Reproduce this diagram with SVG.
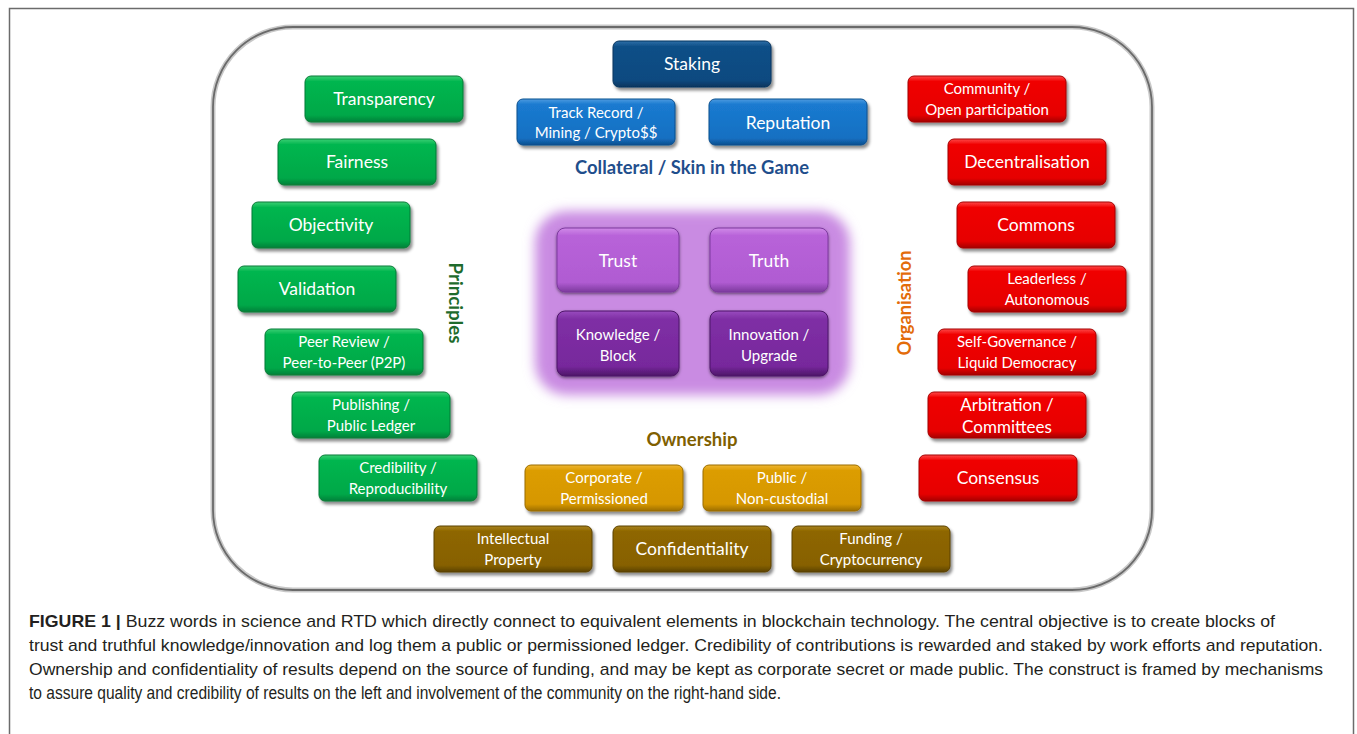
<svg xmlns="http://www.w3.org/2000/svg" width="1357" height="734" viewBox="0 0 1357 734">
<defs>
  <filter id="sh" x="-10%" y="-20%" width="125%" height="150%">
    <feDropShadow dx="2" dy="3" stdDeviation="1.8" flood-color="#000" flood-opacity="0.45"/>
  </filter>
  <filter id="glow" x="-20%" y="-20%" width="140%" height="140%">
    <feGaussianBlur stdDeviation="6"/>
  </filter>
  <filter id="psh" x="-10%" y="-10%" width="120%" height="125%">
    <feDropShadow dx="0" dy="1.5" stdDeviation="1.5" flood-color="#000" flood-opacity="0.5"/>
  </filter>
  <linearGradient id="gG" x1="0" y1="0" x2="0" y2="1">
    <stop offset="0" stop-color="#3ccf75"/><stop offset="0.12" stop-color="#00b64f"/><stop offset="0.85" stop-color="#00a848"/><stop offset="1" stop-color="#05803a"/>
  </linearGradient>
  <linearGradient id="gR" x1="0" y1="0" x2="0" y2="1">
    <stop offset="0" stop-color="#ff4a4a"/><stop offset="0.12" stop-color="#f00000"/><stop offset="0.85" stop-color="#e60000"/><stop offset="1" stop-color="#a50000"/>
  </linearGradient>
  <linearGradient id="gDB" x1="0" y1="0" x2="0" y2="1">
    <stop offset="0" stop-color="#2f6fa8"/><stop offset="0.12" stop-color="#0d4f87"/><stop offset="0.85" stop-color="#0b4a80"/><stop offset="1" stop-color="#07355e"/>
  </linearGradient>
  <linearGradient id="gB" x1="0" y1="0" x2="0" y2="1">
    <stop offset="0" stop-color="#4d9be0"/><stop offset="0.12" stop-color="#1a7ad0"/><stop offset="0.85" stop-color="#1670c2"/><stop offset="1" stop-color="#0d4f8f"/>
  </linearGradient>
  <linearGradient id="gGo" x1="0" y1="0" x2="0" y2="1">
    <stop offset="0" stop-color="#f0b733"/><stop offset="0.12" stop-color="#dc9d00"/><stop offset="0.85" stop-color="#d69700"/><stop offset="1" stop-color="#9c6e00"/>
  </linearGradient>
  <linearGradient id="gBr" x1="0" y1="0" x2="0" y2="1">
    <stop offset="0" stop-color="#a98420"/><stop offset="0.12" stop-color="#8e6600"/><stop offset="0.85" stop-color="#876100"/><stop offset="1" stop-color="#5c4200"/>
  </linearGradient>
  <linearGradient id="gP" x1="0" y1="0" x2="0" y2="1">
    <stop offset="0" stop-color="#d08ae8"/><stop offset="0.12" stop-color="#b863d9"/><stop offset="0.85" stop-color="#b05bd2"/><stop offset="1" stop-color="#7d3a9e"/>
  </linearGradient>
  <linearGradient id="gPD" x1="0" y1="0" x2="0" y2="1">
    <stop offset="0" stop-color="#9a4cbf"/><stop offset="0.12" stop-color="#7f2fa5"/><stop offset="0.85" stop-color="#77289c"/><stop offset="1" stop-color="#4d1568"/>
  </linearGradient>
  <style>
    .box{filter:url(#sh);}
    .g{fill:url(#gG);stroke:#0a7a36;stroke-width:1;}
    .r{fill:url(#gR);stroke:#a30000;stroke-width:1;}
    .db{fill:url(#gDB);stroke:#07355e;stroke-width:1;}
    .b{fill:url(#gB);stroke:#0c4e8c;stroke-width:1;}
    .go{fill:url(#gGo);stroke:#9a6c00;stroke-width:1;}
    .br{fill:url(#gBr);stroke:#5a4000;stroke-width:1;}
    .p{fill:url(#gP);stroke:#7d3a9e;stroke-width:1;filter:url(#psh);}
    .pd{fill:url(#gPD);stroke:#4d1568;stroke-width:1;filter:url(#psh);}
    text{font-family:Lato,"Open Sans","Liberation Sans",sans-serif;}
    .t{fill:#fff;font-size:17.5px;text-anchor:middle;}
    .t2{fill:#fff;font-size:15px;text-anchor:middle;}
    .lab{font-weight:bold;font-size:18.5px;text-anchor:middle;}
    .cap{font-family:"Liberation Sans",Arial,sans-serif;font-size:17px;fill:#231f20;}
  </style>
</defs>
<rect width="1357" height="734" fill="#fff"/>
<!-- outer figure frame -->
<path d="M9.5,734 V8.5 H1353.5 V734" fill="none" stroke="#6b6b6b" stroke-width="1.5"/>
<!-- panel -->
<rect x="213" y="27" width="939" height="563" rx="80" fill="#fff" stroke="#c8c8c8" stroke-width="5"/>
<rect x="213" y="27" width="939" height="563" rx="80" fill="none" stroke="#6a6a6a" stroke-width="1.8"/>

<!-- purple glow -->
<g id="core-bg">
  <rect x="535" y="211" width="315" height="184" rx="32" fill="#c98be2" filter="url(#glow)"/>
</g>

<g id="collateral">
  <g id="staking"><rect class="box db" x="613" y="41" width="158" height="46" rx="6"/><text class="t" x="692" y="70">Staking</text></g>
  <g id="track-record"><rect class="box b" x="517" y="99" width="158" height="46" rx="6"/><text class="t2" x="596" y="118">Track Record /</text><text class="t2" x="596" y="138">Mining / Crypto$$</text></g>
  <g id="reputation"><rect class="box b" x="709" y="99" width="158" height="46" rx="6"/><text class="t" x="788" y="129">Reputation</text></g>
  <text class="lab" x="692" y="174" fill="#1f4e8c" textLength="234" lengthAdjust="spacingAndGlyphs">Collateral / Skin in the Game</text>
</g>

<g id="principles">
  <g id="transparency"><rect class="box g" x="305" y="76" width="158" height="46" rx="6"/><text class="t" x="384" y="105">Transparency</text></g>
  <g id="fairness"><rect class="box g" x="278" y="139" width="158" height="46" rx="6"/><text class="t" x="357" y="168">Fairness</text></g>
  <g id="objectivity"><rect class="box g" x="252" y="202" width="158" height="46" rx="6"/><text class="t" x="331" y="231">Objectivity</text></g>
  <g id="validation"><rect class="box g" x="238" y="266" width="158" height="46" rx="6"/><text class="t" x="317" y="295">Validation</text></g>
  <g id="peer-review"><rect class="box g" x="265" y="329" width="158" height="46" rx="6"/><text class="t2" x="344" y="347">Peer Review /</text><text class="t2" x="344" y="368">Peer-to-Peer (P2P)</text></g>
  <g id="publishing"><rect class="box g" x="292" y="392" width="158" height="46" rx="6"/><text class="t2" x="371" y="410">Publishing /</text><text class="t2" x="371" y="431">Public Ledger</text></g>
  <g id="credibility"><rect class="box g" x="319" y="455" width="158" height="46" rx="6"/><text class="t2" x="398" y="473">Credibility /</text><text class="t2" x="398" y="494">Reproducibility</text></g>
  <text class="lab" transform="translate(449,303) rotate(90)" x="0" y="0" fill="#1e6b2c" textLength="81" lengthAdjust="spacingAndGlyphs">Principles</text>
</g>

<g id="organisation">
  <g id="community"><rect class="box r" x="908" y="76" width="158" height="46" rx="6"/><text class="t2" x="987" y="94">Community /</text><text class="t2" x="987" y="115">Open participation</text></g>
  <g id="decentralisation"><rect class="box r" x="948" y="139" width="158" height="46" rx="6"/><text class="t" x="1027" y="168">Decentralisation</text></g>
  <g id="commons"><rect class="box r" x="957" y="202" width="158" height="46" rx="6"/><text class="t" x="1036" y="231">Commons</text></g>
  <g id="leaderless"><rect class="box r" x="968" y="266" width="158" height="46" rx="6"/><text class="t2" x="1047" y="284">Leaderless /</text><text class="t2" x="1047" y="305">Autonomous</text></g>
  <g id="self-governance"><rect class="box r" x="938" y="329" width="158" height="46" rx="6"/><text class="t2" x="1017" y="347">Self-Governance /</text><text class="t2" x="1017" y="368">Liquid Democracy</text></g>
  <g id="arbitration"><rect class="box r" x="928" y="392" width="158" height="46" rx="6"/><text class="t" x="1007" y="411" style="font-size:17px">Arbitration /</text><text class="t" x="1007" y="433" style="font-size:17px">Committees</text></g>
  <g id="consensus"><rect class="box r" x="919" y="455" width="158" height="46" rx="6"/><text class="t" x="998" y="484">Consensus</text></g>
  <text class="lab" transform="translate(911,303) rotate(-90)" x="0" y="0" fill="#e36c0a" textLength="105" lengthAdjust="spacingAndGlyphs">Organisation</text>
</g>

<g id="core">
  <g id="trust"><rect class="p" x="557" y="228" width="122" height="64" rx="8"/><text class="t" x="618" y="267">Trust</text></g>
  <g id="truth"><rect class="p" x="710" y="228" width="118" height="64" rx="8"/><text class="t" x="769" y="267">Truth</text></g>
  <g id="knowledge"><rect class="pd" x="557" y="311" width="122" height="65" rx="8"/><text class="t2" x="618" y="340">Knowledge /</text><text class="t2" x="618" y="361">Block</text></g>
  <g id="innovation"><rect class="pd" x="710" y="311" width="118" height="65" rx="8"/><text class="t2" x="769" y="340">Innovation /</text><text class="t2" x="769" y="361">Upgrade</text></g>
</g>

<g id="ownership">
  <text class="lab" x="692" y="446" fill="#7f6000" textLength="91" lengthAdjust="spacingAndGlyphs">Ownership</text>
  <g id="corporate"><rect class="box go" x="525" y="465" width="158" height="46" rx="6"/><text class="t2" x="604" y="483">Corporate /</text><text class="t2" x="604" y="504">Permissioned</text></g>
  <g id="public"><rect class="box go" x="703" y="465" width="158" height="46" rx="6"/><text class="t2" x="782" y="483">Public /</text><text class="t2" x="782" y="504">Non-custodial</text></g>
  <g id="ip"><rect class="box br" x="434" y="526" width="158" height="46" rx="6"/><text class="t2" x="513" y="544">Intellectual</text><text class="t2" x="513" y="565">Property</text></g>
  <g id="confidentiality"><rect class="box br" x="613" y="526" width="158" height="46" rx="6"/><text class="t" x="692" y="555">Confidentiality</text></g>
  <g id="funding"><rect class="box br" x="792" y="526" width="158" height="46" rx="6"/><text class="t2" x="871" y="544">Funding /</text><text class="t2" x="871" y="565">Cryptocurrency</text></g>
</g>

<g id="connectors"></g>

<g id="caption">
  <text class="cap" x="29" y="627" textLength="1246" lengthAdjust="spacingAndGlyphs"><tspan font-weight="bold">FIGURE 1 |</tspan> Buzz words in science and RTD which directly connect to equivalent elements in blockchain technology. The central objective is to create blocks of</text>
  <text class="cap" x="29" y="651" textLength="1294" lengthAdjust="spacingAndGlyphs">trust and truthful knowledge/innovation and log them a public or permissioned ledger. Credibility of contributions is rewarded and staked by work efforts and reputation.</text>
  <text class="cap" x="29" y="675" textLength="1294" lengthAdjust="spacingAndGlyphs">Ownership and confidentiality of results depend on the source of funding, and may be kept as corporate secret or made public. The construct is framed by mechanisms</text>
  <text class="cap" x="29" y="699" textLength="752" lengthAdjust="spacingAndGlyphs" style="font-size:17.5px">to assure quality and credibility of results on the left and involvement of the community on the right-hand side.</text>
</g>
</svg>
